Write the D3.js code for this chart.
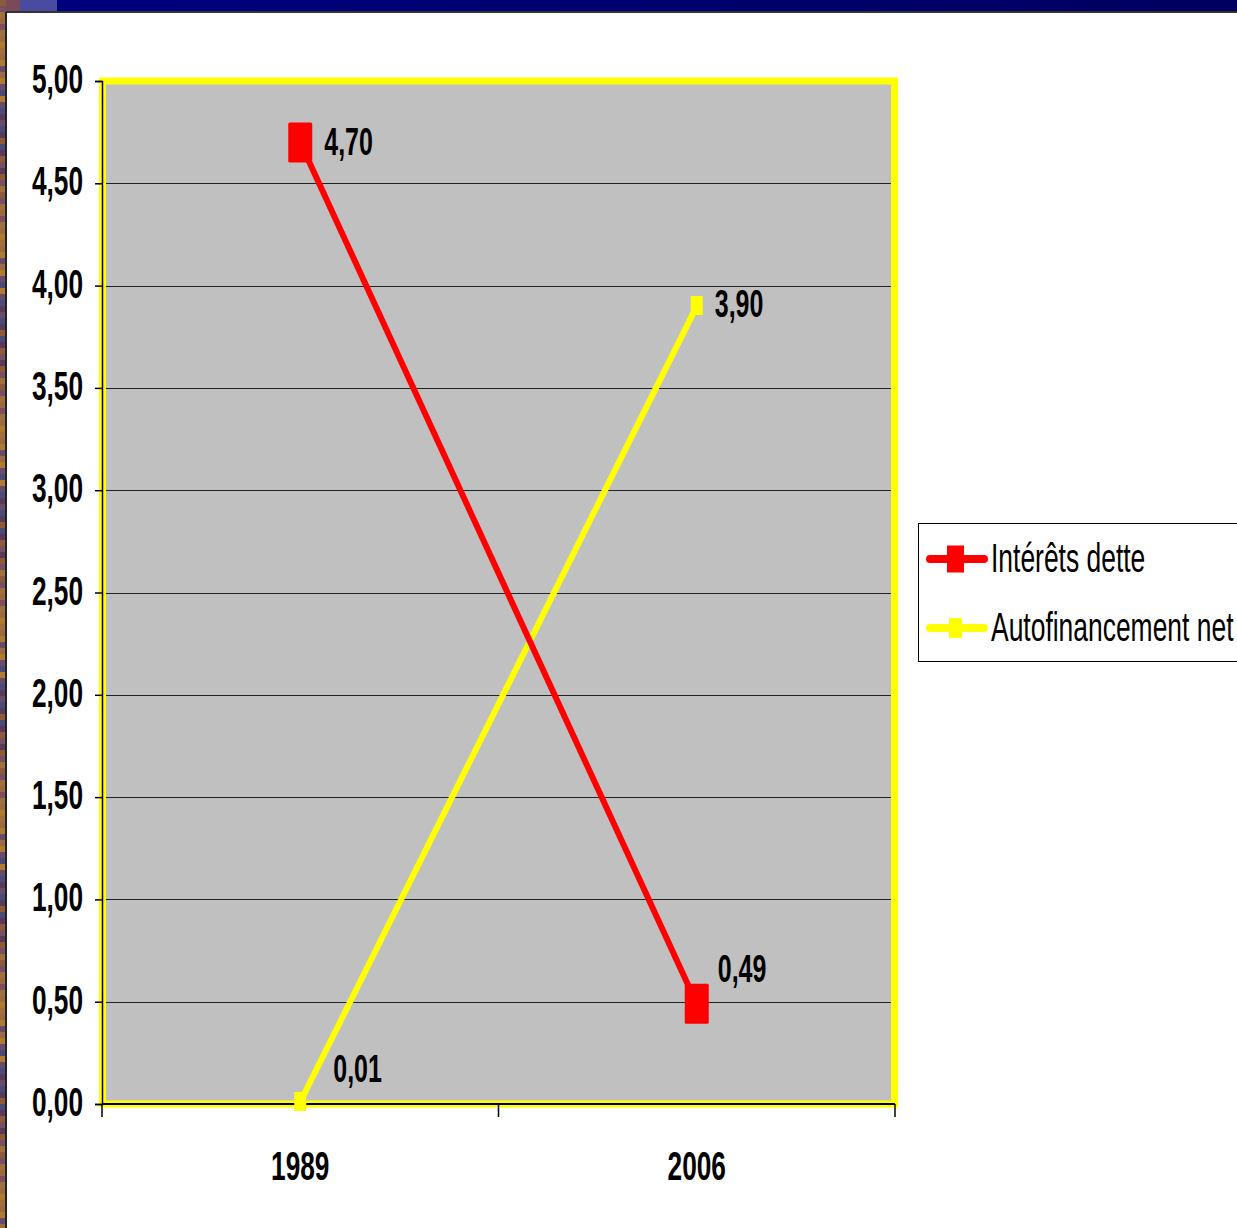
<!DOCTYPE html>
<html>
<head>
<meta charset="utf-8">
<script src="https://cdn.jsdelivr.net/npm/d3@7"></script>
<style>
  html, body { margin: 0; padding: 0; background: #ffffff; }
  svg { display: block; }
</style>
</head>
<body>
<svg id="chart" width="1237" height="1228"></svg>
<script>
// ---- data ----
const categories = ["1989", "2006"];
const interets = [4.70, 0.49];
const autofinancement = [0.01, 3.90];
const interetsLabels = ["4,70", "0,49"];
const autofinancementLabels = ["0,01", "3,90"];
const yTicks = [0, 0.5, 1, 1.5, 2, 2.5, 3, 3.5, 4, 4.5, 5];
const seriesNames = ["Intérêts dette", "Autofinancement net"];

const svg = d3.select("#chart");
const W = 1237, H = 1228;
const FONT = "'Liberation Sans', Arial, sans-serif";
const SX = 0.64;

// ---- slide background ----
svg.append("rect").attr("x", 0).attr("y", 0).attr("width", W).attr("height", H).attr("fill", "#ffffff");
const topGrad = svg.append("defs").append("linearGradient").attr("id", "topg").attr("x1", 0).attr("x2", 1);
topGrad.append("stop").attr("offset", "0").attr("stop-color", "#000080");
topGrad.append("stop").attr("offset", "1").attr("stop-color", "#000060");
svg.append("rect").attr("x", 0).attr("y", 0).attr("width", W).attr("height", 12).attr("fill", "url(#topg)");
svg.append("rect").attr("x", 20).attr("y", 0).attr("width", 37).attr("height", 12).attr("fill", "#4a4aa0");
svg.append("rect").attr("x", 0).attr("y", 0).attr("width", 20).attr("height", 12).attr("fill", "#7a4a5a");
// textured left strip
const stripColors = ["#8a5a3a", "#6a4a6a", "#a0703a", "#5a3a5a", "#b07a30", "#7a5060", "#4a4a7a", "#9a6a40"];
svg.append("g").selectAll("rect").data(d3.range(0, H, 6)).join("rect")
  .attr("x", 0).attr("y", d => d).attr("width", 6).attr("height", 6)
  .attr("fill", (d, i) => stripColors[(i * 5 + (i >> 2)) % stripColors.length]);
svg.append("line").attr("x1", 6).attr("x2", W).attr("y1", 12).attr("y2", 12).attr("stroke", "#333").attr("stroke-width", 2);
svg.append("line").attr("x1", 6).attr("x2", 6).attr("y1", 12).attr("y2", H).attr("stroke", "#222").attr("stroke-width", 2);

// ---- scales ----
const x = d3.scaleBand().domain(categories).range([102, 895]).padding(0);
const y = d3.scaleLinear().domain([0, 5]).range([1104, 81]);
const cx = d => x(d) + x.bandwidth() / 2;

// ---- plot area ----
svg.append("rect")
  .attr("x", 102.5).attr("y", 81).attr("width", 792).attr("height", 1023)
  .attr("fill", "#c0c0c0").attr("stroke", "#ffff00").attr("stroke-width", 7);

// gridlines
svg.append("g").selectAll("line").data(yTicks.filter(t => t > 0 && t < 5)).join("line")
  .attr("x1", 106).attr("x2", 891)
  .attr("y1", d => Math.round(y(d)) + 0.5).attr("y2", d => Math.round(y(d)) + 0.5)
  .attr("stroke", "#222").attr("stroke-width", 1);

// y axis
const yAxis = svg.append("g").attr("transform", "translate(102,0)")
  .call(d3.axisLeft(y).tickValues(yTicks).tickSize(7).tickFormat(""));
yAxis.select(".domain").attr("stroke", "#000").attr("stroke-width", 1.5);
yAxis.selectAll(".tick line").attr("stroke", "#000").attr("stroke-width", 1.5);

svg.append("g").selectAll("text").data(yTicks).join("text")
  .attr("transform", d => `translate(83,${y(d) + 12}) scale(${SX},1)`)
  .attr("text-anchor", "end")
  .attr("font-family", FONT).attr("font-weight", "bold").attr("font-size", 41)
  .attr("fill", "#000")
  .text(d => d3.format(".2f")(d).replace(".", ","));

// x axis
const xAxis = svg.append("g").attr("transform", "translate(0,1104)")
  .call(d3.axisBottom(x).tickSize(0).tickFormat(""));
xAxis.select(".domain").attr("stroke", "#000").attr("stroke-width", 2).attr("d", "M102,0H895");
const xBounds = [x.range()[0], x(categories[1]), x.range()[1]];
svg.append("g").selectAll("line").data(xBounds).join("line")
  .attr("x1", d => d).attr("x2", d => d).attr("y1", 1104).attr("y2", 1117)
  .attr("stroke", "#000").attr("stroke-width", 1.5);

svg.append("g").selectAll("text").data(categories).join("text")
  .attr("transform", d => `translate(${cx(d)},1180) scale(${SX},1)`)
  .attr("text-anchor", "middle")
  .attr("font-family", FONT).attr("font-weight", "bold").attr("font-size", 41)
  .attr("fill", "#000")
  .text(d => d);

// ---- series ----
const line = d3.line().x(d => cx(d.c)).y(d => y(d.v));
const redData = categories.map((c, i) => ({ c, v: interets[i], l: interetsLabels[i] }));
const yelData = categories.map((c, i) => ({ c, v: autofinancement[i], l: autofinancementLabels[i] }));

svg.append("path").datum(yelData).attr("d", line)
  .attr("fill", "none").attr("stroke", "#ffff00").attr("stroke-width", 6);
svg.append("g").selectAll("rect").data(yelData).join("rect")
  .attr("x", d => cx(d.c) - 6).attr("y", d => y(d.v) - 10).attr("width", 12).attr("height", 19)
  .attr("fill", "#ffff00");

svg.append("path").datum(redData).attr("d", line)
  .attr("fill", "none").attr("stroke", "#ff0000").attr("stroke-width", 6);
svg.append("g").selectAll("rect").data(redData).join("rect")
  .attr("x", d => cx(d.c) - 12).attr("y", d => y(d.v) - 20).attr("width", 24).attr("height", 40)
  .attr("rx", 1.5)
  .attr("fill", "#ff0000");

// data labels
const redOff = [[24, 13], [21, -22]];
const yelOff = [[33, -20], [18, 11]];
function labels(data, off) {
  svg.append("g").selectAll("text").data(data).join("text")
    .attr("transform", (d, i) => `translate(${cx(d.c) + off[i][0]},${y(d.v) + off[i][1]}) scale(${SX},1)`)
    .attr("font-family", FONT).attr("font-weight", "bold").attr("font-size", 39)
    .attr("fill", "#000")
    .text(d => d.l);
}
labels(redData, redOff);
labels(yelData, yelOff);

// ---- legend ----
const lg = svg.append("g");
lg.append("rect").attr("x", 918.5).attr("y", 523.5).attr("width", 330).attr("height", 138)
  .attr("fill", "#fff").attr("stroke", "#000").attr("stroke-width", 1);
const legendItems = [
  { name: seriesNames[0], color: "#ff0000", y: 559, mw: 17, mh: 27 },
  { name: seriesNames[1], color: "#ffff00", y: 628, mw: 13, mh: 20 }
];
legendItems.forEach(it => {
  lg.append("line").attr("x1", 930).attr("x2", 984).attr("y1", it.y).attr("y2", it.y)
    .attr("stroke", it.color).attr("stroke-width", 8).attr("stroke-linecap", "round");
  lg.append("rect").attr("x", 955.5 - it.mw / 2).attr("y", it.y - it.mh / 2)
    .attr("width", it.mw).attr("height", it.mh).attr("fill", it.color);
  lg.append("text")
    .attr("transform", `translate(991,${it.y + 13}) scale(0.645,1)`)
    .attr("font-family", FONT).attr("font-size", 41).attr("fill", "#000")
    .text(it.name);
});
</script>
</body>
</html>
